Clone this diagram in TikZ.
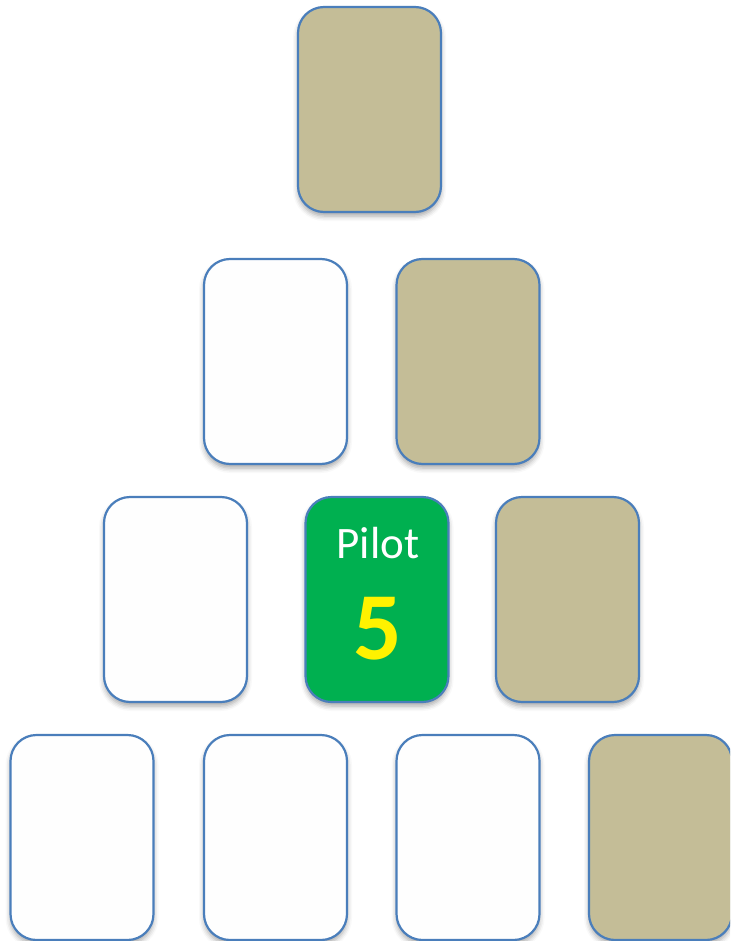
\documentclass[tikz,border=0pt]{standalone}
\usepackage{fontspec}
\setmainfont{Carlito}
\usetikzlibrary{shadows.blur}
\definecolor{cardtan}{HTML}{C4BD97}
\definecolor{cardblue}{HTML}{4A7EBB}
\definecolor{cardgreen}{HTML}{00B050}
\definecolor{cardwhite}{HTML}{FEFEFE}
\tikzset{
  card/.style={draw=cardblue, line width=2.2pt, rounded corners=26pt,
    minimum width=143pt, minimum height=205pt, inner sep=0pt,
    blur shadow={shadow xshift=0pt, shadow yshift=-4pt, shadow blur radius=5pt, shadow opacity=35}},
  tancard/.style={card, fill=cardtan},
  whitecard/.style={card, fill=cardwhite},
  greencard/.style={card, fill=cardgreen},
  pilottext/.style={anchor=base, text=white, font=\fontsize{45}{50}\selectfont, inner sep=0pt},
  numtext/.style={anchor=base, text=yellow, font=\bfseries\fontsize{96}{100}\selectfont, inner sep=0pt}
}
\begin{document}
\begin{tikzpicture}[x=1pt, y=-1pt]
\useasboundingbox (0,0) rectangle (730,941);
\clip (0,0) rectangle (730,941);
% row 1
\node[tancard] (r1a) at (369.5,109.5) {};
% row 2
\node[whitecard] (r2a) at (275.5,361.5) {};
\node[tancard] (r2b) at (468,361.5) {};
% row 3
\node[whitecard] (r3a) at (175.5,599.5) {};
\node[greencard] (r3b) at (377,599.5) {};
\node[tancard] (r3c) at (567.5,599.5) {};
% row 4
\node[whitecard] (r4a) at (82,837.5) {};
\node[whitecard] (r4b) at (275.5,837.5) {};
\node[whitecard] (r4c) at (468,837.5) {};
\node[tancard] (r4d) at (660.5,837.5) {};
% green card text
\node[pilottext] (pilot) at (378,558) {Pilot};
\node[numtext] (five) at (377.5,659) {5};
\end{tikzpicture}
\end{document}
